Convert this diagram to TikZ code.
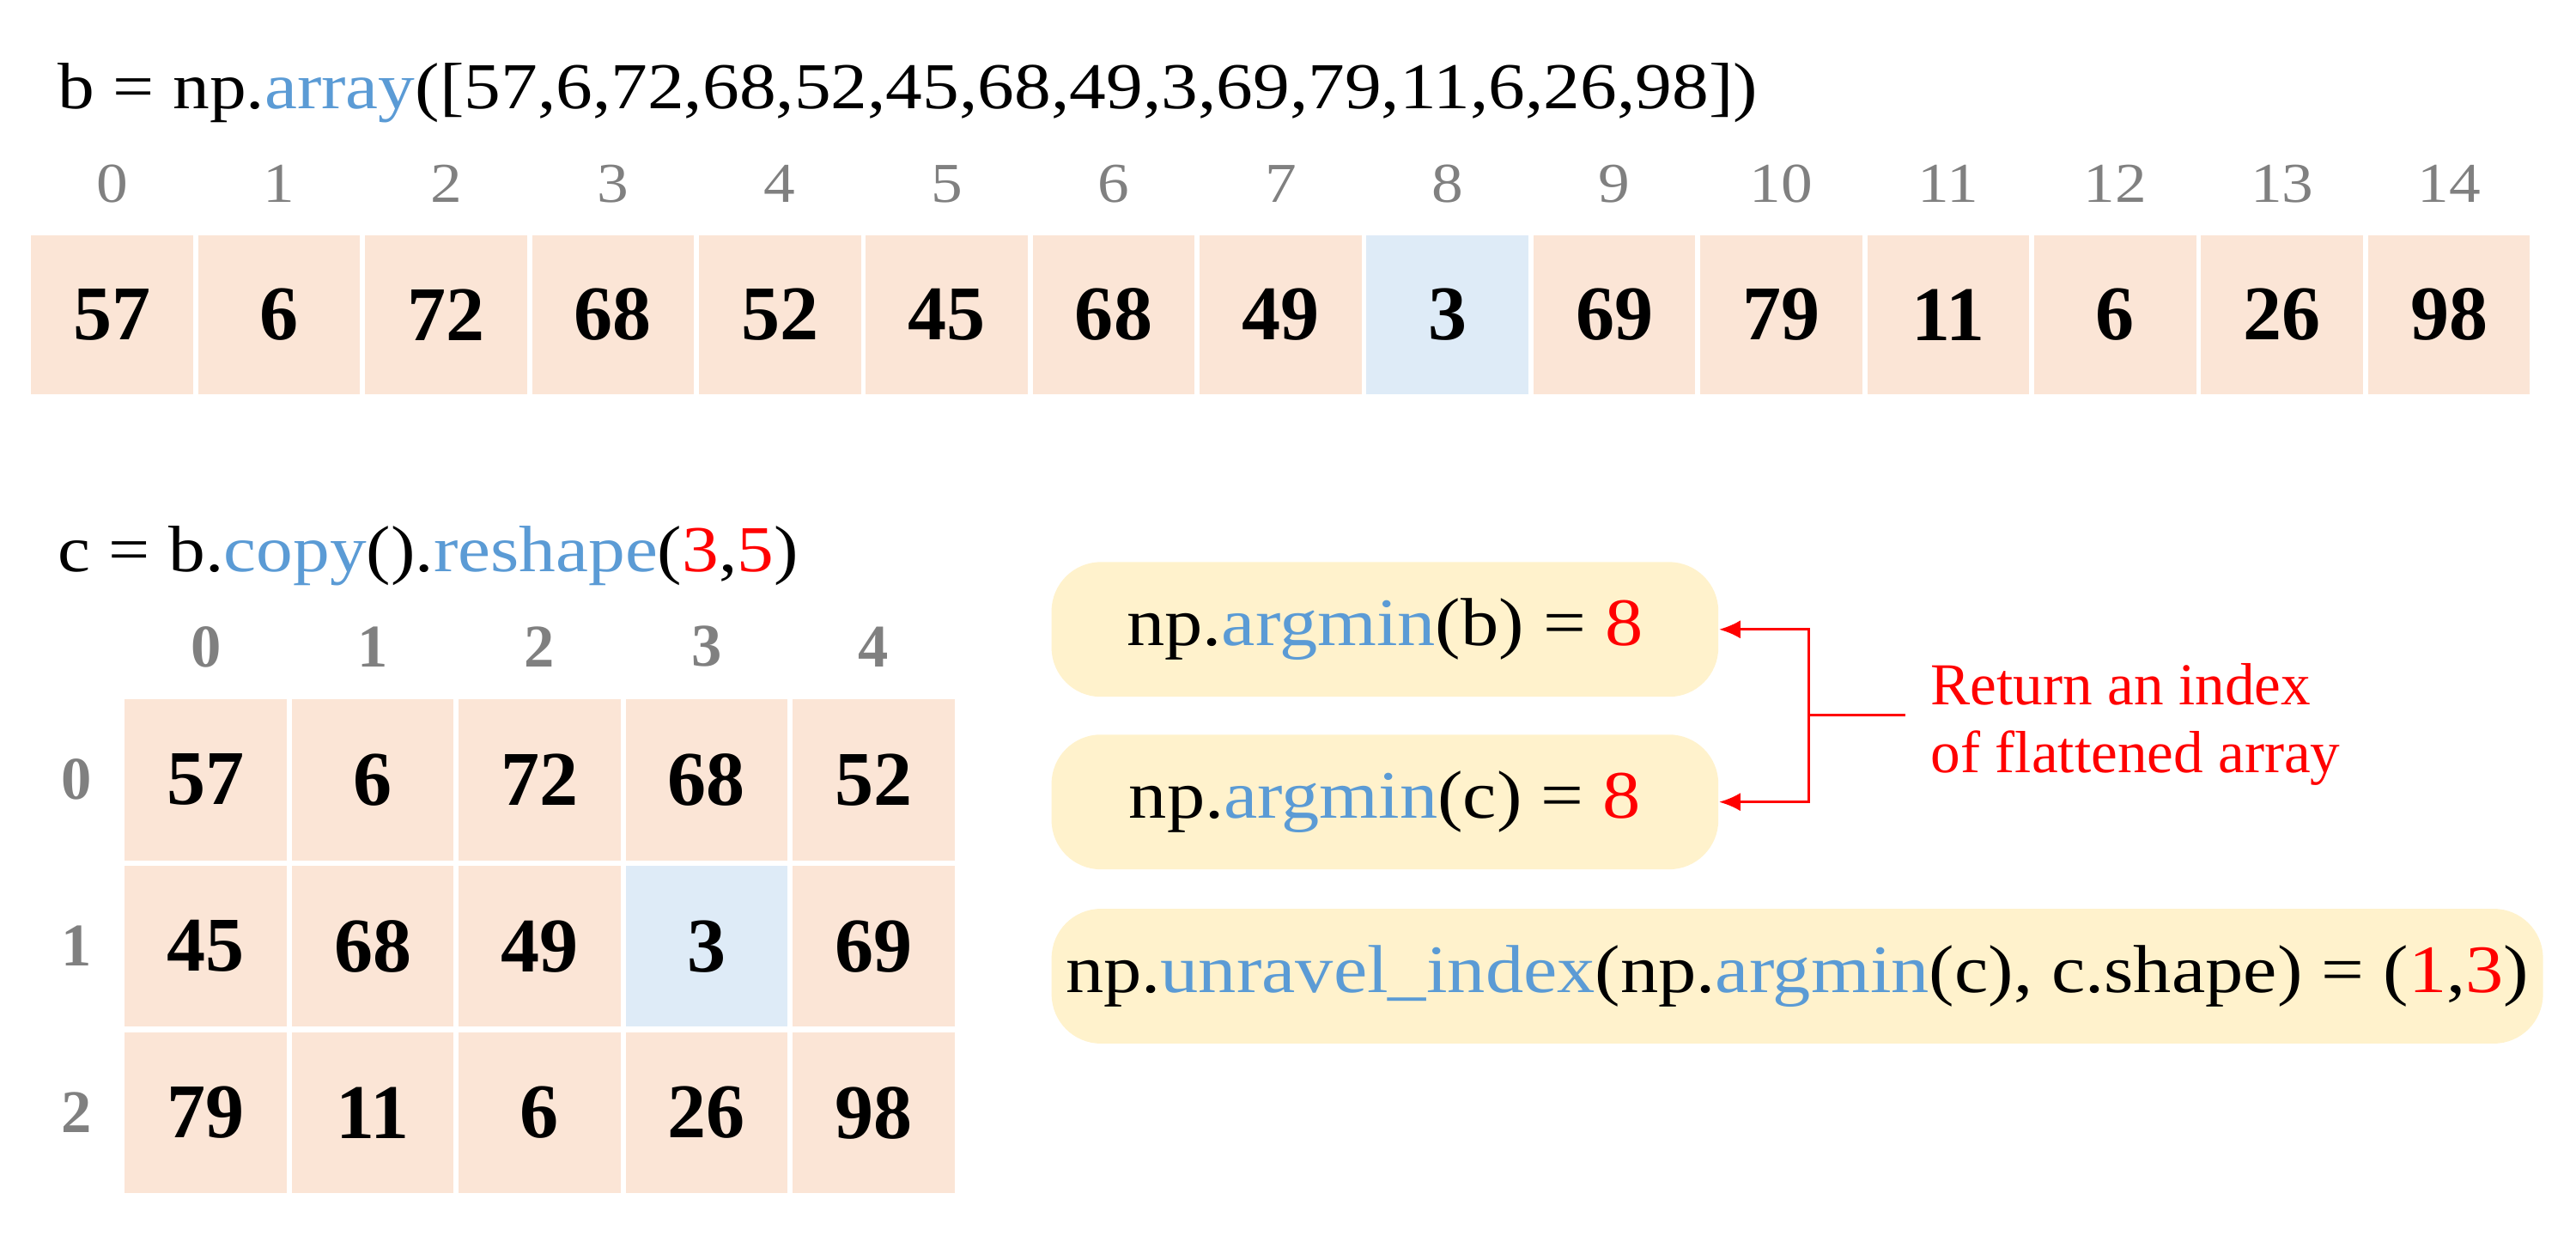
\documentclass[tikz,border=0pt]{standalone}
\usepackage{fontspec}
\setmainfont{Liberation Serif}
\newfontfamily\codefont{Liberation Serif}[FakeStretch=1.12]
\usetikzlibrary{positioning,arrows.meta}

\definecolor{peach}{HTML}{FBE5D6}
\definecolor{paleblue}{HTML}{DEEBF7}
\definecolor{lightyellow}{HTML}{FFF2CC}
\definecolor{codeblue}{HTML}{5B9BD5}
\definecolor{idxgray}{HTML}{808080}

\newcommand{\fn}[1]{\textcolor{codeblue}{#1}}
\newcommand{\hl}[1]{\textcolor{red}{#1}}

\begin{document}
\begin{tikzpicture}[x=0.02cm,y=-0.02cm,
    codeline/.style={anchor=base west,inner sep=0,font=\codefont\fontsize{22.7}{26}\selectfont},
    cell/.style={minimum width=1.972cm,minimum height=1.94cm,inner sep=0,
        font=\fontsize{26.8}{30}\selectfont\bfseries},
    idx/.style={inner sep=0,text=idxgray,font=\codefont\fontsize{19.5}{22}\selectfont},
    bidx/.style={inner sep=0,text=idxgray,font=\fontsize{21}{24}\selectfont\bfseries},
    callbox/.style={fill=lightyellow,rounded corners=0.6cm,minimum height=1.64cm,
        inner sep=0,font=\codefont\fontsize{23.5}{26}\selectfont},
    redline/.style={draw=red,line width=0.9pt}]
    \useasboundingbox (0,0) rectangle (1568,751.6);

    % Flat array
    \node[codeline] (defb) at (35,66) {b = np.\fn{array}([57,6,72,68,52,45,68,49,3,69,79,11,6,26,98])};
    \foreach \v [count=\i from 0] in {57,6,72,68,52,45,68,49,3,69,79,11,6,26,98} {
        \ifnum\i=8 \def\clr{paleblue}\else\def\clr{peach}\fi
        \node[cell,fill=\clr] (b\i) at (68.3+101.6*\i,191.5) {\v};
        \node[idx,anchor=base] (bi\i) at (68.3+101.6*\i,123) {\i};
    }

    % Reshaped array
    \node[codeline] (defc) at (35,348) {c = b.\fn{copy}().\fn{reshape}(\hl{3},\hl{5})};
    \foreach \row [count=\r from 0] in {{57,6,72,68,52},{45,68,49,3,69},{79,11,6,26,98}} {
        \node[bidx] (ri\r) at (46.5,474.5+101.3*\r) {\r};
        \foreach \v [count=\c from 0] in \row {
            \ifnum\r=1 \ifnum\c=3 \def\clr{paleblue}\else\def\clr{peach}\fi
            \else\def\clr{peach}\fi
            \node[cell,fill=\clr,minimum height=1.96cm] (c\r\c) at (125.3+101.6*\c,474.5+101.3*\r) {\v};
        }
    }
    \foreach \c in {0,...,4}
        \node[bidx] (ci\c) at (125.3+101.6*\c,393.5) {\c};

    % Results
    \node[callbox,minimum width=8.12cm] (argb) at (843,383) {np.\fn{argmin}(b) = \hl{8}};
    \node[callbox,minimum width=8.12cm] (argc) at (843,488) {np.\fn{argmin}(c) = \hl{8}};
    \node[callbox,minimum width=18.16cm] (unrav) at (1094,594)
        {np.\fn{unravel\_index}(np.\fn{argmin}(c), c.shape) = (\hl{1},\hl{3})};

    % Note
    \coordinate (hub) at (1101,435);
    \node[anchor=west,align=left,inner xsep=0.3cm,inner ysep=0,text=red,
        font=\fontsize{20.6}{23.5}\selectfont] (note) at (1160,441)
        {Return an index\\of flattened array};
    \draw[redline] (hub) -- (hub -| note.west);
    \draw[redline,-{Latex[length=0.26cm,width=0.22cm]}] (hub) |- (argb.east);
    \draw[redline,-{Latex[length=0.26cm,width=0.22cm]}] (hub) |- (argc.east);
\end{tikzpicture}
\end{document}
